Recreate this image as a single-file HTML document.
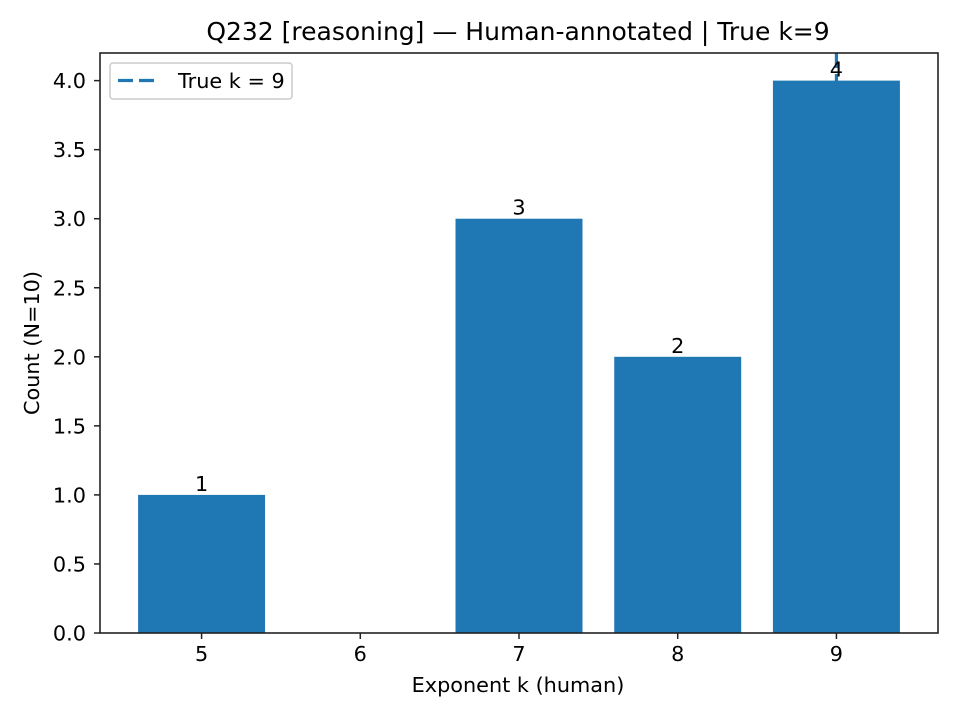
<!DOCTYPE html>
<html><head><meta charset="utf-8"><style>
body{margin:0;background:#fff;}
svg{display:block;font-family:"DejaVu Sans","Liberation Sans",sans-serif;}
</style></head><body>
<svg id="chart" width="960" height="720" viewBox="0 0 960 720">
<rect width="960" height="720" fill="#fff"/>
<text x="518" y="40" font-size="25" text-anchor="middle" fill="#000">Q232 [reasoning] — Human-annotated | True k=9</text>
<g id="plot"></g>
<text x="518" y="692" font-size="20.8" text-anchor="middle">Exponent k (human)</text>
<text transform="translate(39,343) rotate(-90)" font-size="20.8" text-anchor="middle">Count (N=10)</text>
</svg>
<script>
const categories = [5, 6, 7, 8, 9];
const counts = [1, 0, 3, 2, 4];
const yTicks = [0, 0.5, 1.0, 1.5, 2.0, 2.5, 3.0, 3.5, 4.0];
const yTickLabels = ["0.0","0.5","1.0","1.5","2.0","2.5","3.0","3.5","4.0"];
const trueK = 9;

const L=100,R=938,T=53,B=633;
const xMin=4.36,xMax=9.64,yMin=0,yMax=4.2;
const xs=v=>L+(v-xMin)/(xMax-xMin)*(R-L);
const ys=v=>B-(v-yMin)/(yMax-yMin)*(B-T);
const NS="http://www.w3.org/2000/svg";
const g=document.getElementById('plot');
function mk(t,a){const e=document.createElementNS(NS,t);for(const k in a)e.setAttribute(k,a[k]);g.appendChild(e);return e;}

const vl=mk('line',{x1:xs(trueK),x2:xs(trueK),y1:T,y2:B,stroke:'#1f77b4','stroke-width':3.2,'stroke-dasharray':'15,6'});



const bw=(xs(1)-xs(0))*0.8;
categories.forEach((c,i)=>{
  const v=counts[i];
  const r=mk('rect',{x:xs(c)-bw/2,y:ys(v),width:bw,height:ys(0)-ys(v),fill:'#1f77b4'});
  
  
  if(v>0){
    const t=mk('text',{x:xs(c),y:ys(v)-4,'font-size':20.8,'text-anchor':'middle'});
    t.textContent=String(v);
    
    
  }
  const tk=mk('line',{x1:xs(c),x2:xs(c),y1:B,y2:B+6,stroke:'#222','stroke-width':1.5});
  
  
  const tl=mk('text',{x:xs(c),y:B+28,'font-size':20.8,'text-anchor':'middle'});
  tl.textContent=String(c);
  
  
});
yTicks.forEach((v,i)=>{
  const tk=mk('line',{x1:L-6,x2:L,y1:ys(v),y2:ys(v),stroke:'#222','stroke-width':1.5});
  
  
  const tl=mk('text',{x:L-14,y:ys(v)+7.5,'font-size':20.8,'text-anchor':'end'});
  tl.textContent=yTickLabels[i];
  
  
});
const fr=mk('rect',{x:L,y:T,width:R-L,height:B-T,fill:'none',stroke:'#222','stroke-width':1.6});



const lg=mk('rect',{x:110,y:63,width:182,height:36,rx:3,fill:'#fff','fill-opacity':0.8,stroke:'#ccc','stroke-width':1.5});


const ll=mk('line',{x1:118,x2:156,y1:80.5,y2:80.5,stroke:'#1f77b4','stroke-width':3.2,'stroke-dasharray':'15,6'});


const lt=mk('text',{x:178,y:88,'font-size':20.8});
lt.textContent='True k = '+trueK;


</script>
</body></html>
